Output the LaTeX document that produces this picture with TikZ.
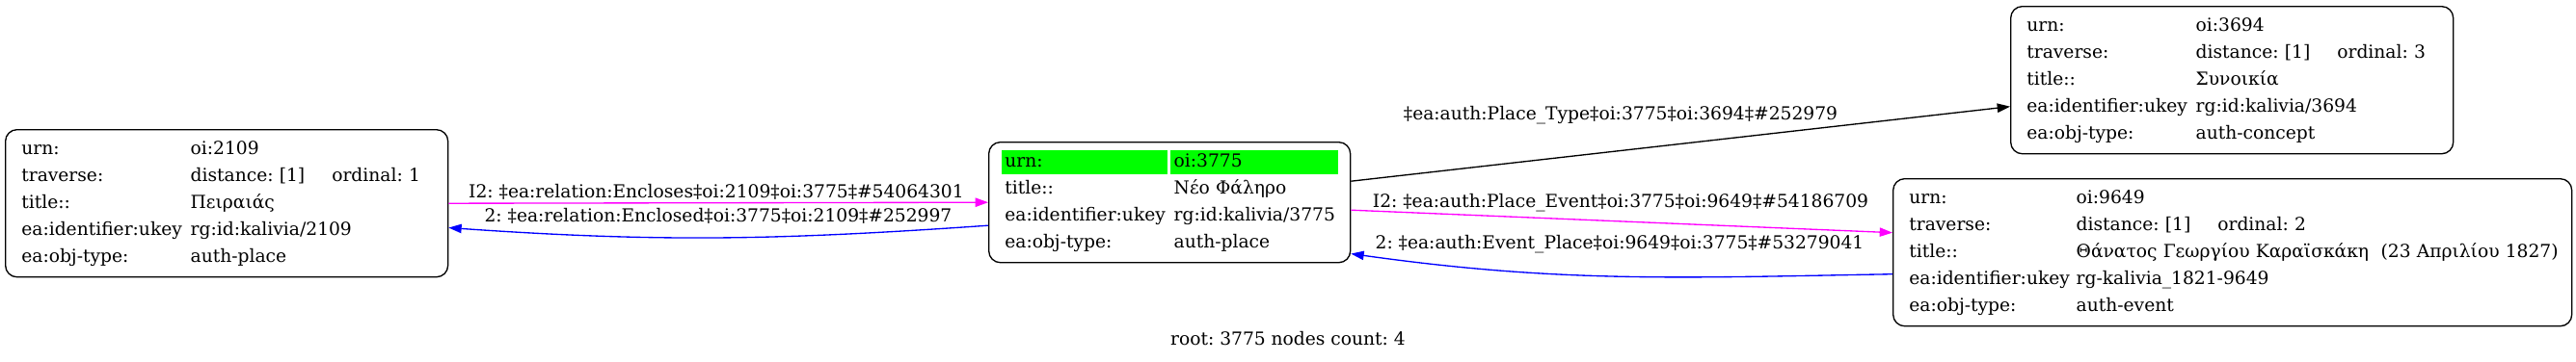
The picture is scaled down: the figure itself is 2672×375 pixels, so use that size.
\documentclass[tikz,border=0pt]{standalone}
\usepackage{fontspec}
\setmainfont{DejaVu Serif}
\usepackage{xcolor}
\usepackage{tikz}
\usetikzlibrary{
  arrows.meta, backgrounds, calc
}
\frenchspacing
\definecolor{urngreen}{RGB}{0,255,0}
\definecolor{relmagenta}{RGB}{255,0,255}
\definecolor{relblue}{RGB}{0,0,255}
\tikzset{
  recbox/.style={
    draw, rounded corners=9pt, line width=1pt, anchor=north west,
    align=left, inner xsep=12.5pt, inner ysep=4.9pt,
    font=\fontsize{14}{21}\selectfont
  },
  rellabel/.style={
    anchor=base, inner sep=0pt, font=\fontsize{14}{17}\selectfont
  },
  relarrow/.style={
    -{Triangle[length=10pt, width=7pt]}, line width=1pt
  },
}

\begin{document}
\begin{tikzpicture}[x=0.75pt, y=-0.75pt]
  \useasboundingbox (0,0) rectangle (2672,375);

  % Left node
  \node[recbox, text width=319.25pt] (n2109) at (5,134) {%
    \begin{tabular}{@{}p{131.5pt}@{}l@{}}
      urn: & oi:2109\\
      traverse: & \makebox[110pt][l]{distance: [1]}ordinal: 1\\
      title:: & Πειραιάς\\
      ea:identifier:ukey & rg:id:kalivia/2109\\
      ea:obj-type: & auth-place
    \end{tabular}};

  % Root node
  \node[recbox, text width=256.25pt] (n3775) at (1025,147) {%
    \begin{tabular}{@{}p{131.5pt}@{}l@{}}
      urn: & oi:3775\\
      title:: & Νέο Φάληρο\\
      ea:identifier:ukey & rg:id:kalivia/3775\\
      ea:obj-type: & auth-place
    \end{tabular}};

  % Top right node
  \node[recbox, text width=319.25pt] (n3694) at (2085,6) {%
    \begin{tabular}{@{}p{131.5pt}@{}l@{}}
      urn: & oi:3694\\
      traverse: & \makebox[110pt][l]{distance: [1]}ordinal: 3\\
      title:: & Συνοικία\\
      ea:identifier:ukey & rg:id:kalivia/3694\\
      ea:obj-type: & auth-concept
    \end{tabular}};

  % Bottom right node
  \node[recbox, text width=503pt] (n9649) at (1963,185) {%
    \begin{tabular}{@{}p{130pt}@{}l@{}}
      urn: & oi:9649\\
      traverse: & \makebox[110pt][l]{distance: [1]}ordinal: 2\\
      title:: & Θάνατος Γεωργίου Καραϊσκάκη\ \ (23 Απριλίου 1827)\\
      ea:identifier:ukey & rg-kalivia\_1821-9649\\
      ea:obj-type: & auth-event
    \end{tabular}};

  % Relations
  \draw[relarrow, relmagenta] (n2109.east) -- (n3775.west);
  \draw[relarrow, relblue] ([yshift=-18pt]n3775.west)
    to[out=184, in=-4] ([yshift=-19pt]n2109.east);
  \draw[relarrow] ([yshift=16.5pt]n3775.east) -- ([yshift=-20.6pt]n3694.west);
  \draw[relarrow, relmagenta] ([yshift=-6pt]n3775.east)
    -- ([yshift=15.4pt]n9649.west);
  \draw[relarrow, relblue] ([yshift=-16.9pt]n9649.west)
    to[out=181, in=-8] ([yshift=-40pt]n3775.east);

  % Labels
  \node[rellabel] (lencloses) at (743,205)
    {I2: ‡ea:relation:Encloses‡oi:2109‡oi:3775‡\#54064301};
  \node[rellabel] (lenclosed) at (745,230)
    {2: ‡ea:relation:Enclosed‡oi:3775‡oi:2109‡\#252997};
  \node[rellabel] (lplacetype) at (1681,124)
    {‡ea:auth:Place\_Type‡oi:3775‡oi:3694‡\#252979};
  \node[rellabel] (lplaceevent) at (1681,215)
    {I2: ‡ea:auth:Place\_Event‡oi:3775‡oi:9649‡\#54186709};
  \node[rellabel] (leventplace) at (1680,258)
    {2: ‡ea:auth:Event\_Place‡oi:9649‡oi:3775‡\#53279041};
  \node[rellabel] (rootinfo) at (1336,358) {root: 3775 nodes count: 4};

  % Background and urn highlight
  \begin{scope}[on background layer]
    \fill[white] (0,0) rectangle (2672,375);
    \fill[urngreen] ([xshift=10.5pt, yshift=-6.75pt]n3775.north west)
      rectangle ([xshift=139.5pt, yshift=-25.5pt]n3775.north west);
    \fill[urngreen] ([xshift=141.75pt, yshift=-6.75pt]n3775.north west)
      rectangle ([xshift=-9.75pt, yshift=-25.5pt]n3775.north east);
  \end{scope}
\end{tikzpicture}
\end{document}
